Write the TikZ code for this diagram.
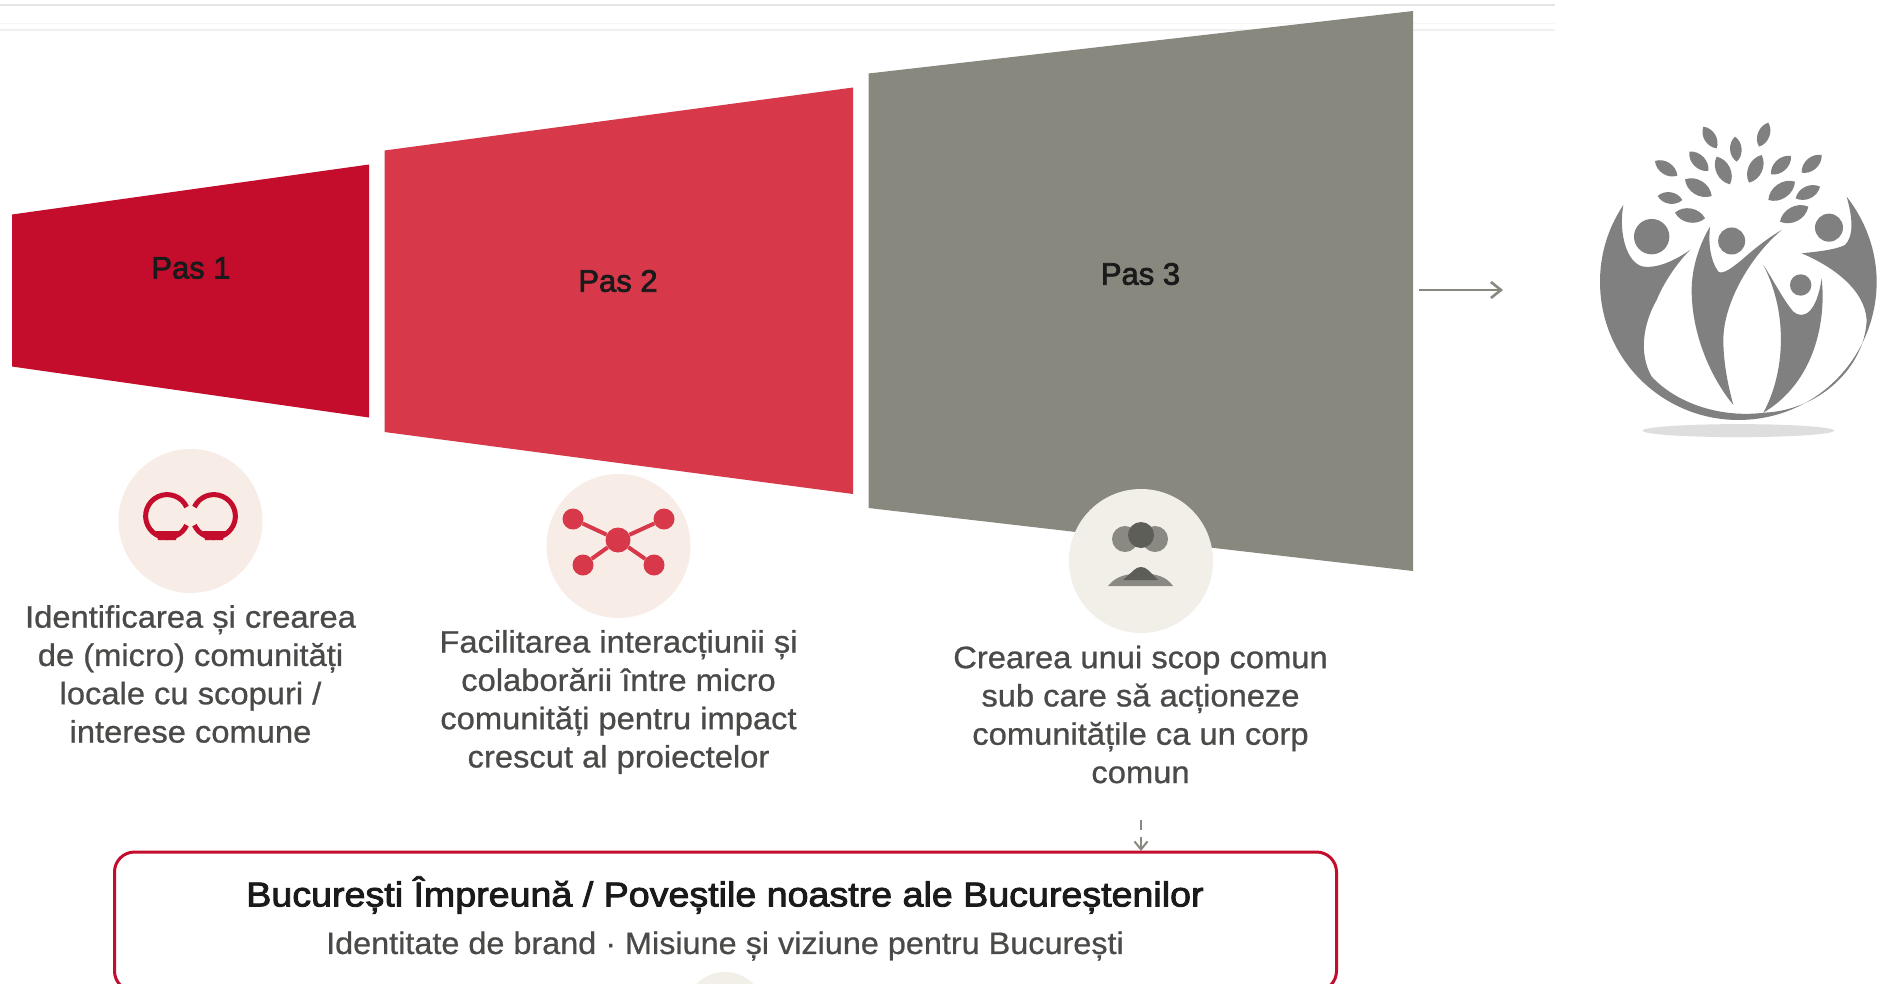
\documentclass[tikz,border=0pt]{standalone}
\usepackage{fontspec}
\setmainfont{Liberation Sans}
\newfontfamily\bodyface[FakeStretch=1.055,FakeBold=0.8]{Liberation Sans}
\newfontfamily\subface[FakeStretch=1.045,FakeBold=0.7]{Liberation Sans}
\newfontfamily\titleface[FakeStretch=1.09,FakeBold=2.6]{Liberation Sans}
\newfontfamily\pasface[FakeStretch=1.0,FakeBold=2.4]{Liberation Sans}
\usetikzlibrary{arrows.meta}
\definecolor{redA}{HTML}{C40D2C}
\definecolor{redB}{HTML}{D7394B}
\definecolor{greyC}{HTML}{88887F}
\definecolor{pinkbg}{HTML}{F8ECE6}
\definecolor{greybg}{HTML}{F1EFE8}
\definecolor{bodytxt}{HTML}{4A4A48}
\definecolor{headtxt}{HTML}{1A1A1A}
\definecolor{logog}{HTML}{808080}
\definecolor{icondark}{HTML}{5E5E58}
\definecolor{iconmid}{HTML}{8A8A82}
\tikzset{
  bodytext/.style={align=center,text=bodytxt,font=\bodyface\fontsize{31}{38.3}\selectfont,inner sep=0pt},
  pastext/.style={text=headtxt,font=\pasface\fontsize{31}{36}\selectfont,inner sep=0pt},
  iconbg/.style={circle,minimum size=144pt,inner sep=0pt},
  dot/.style={circle,fill=redB,inner sep=0pt},
  linkline/.style={redB,line width=4pt},
  ringline/.style={redA,line width=5pt},
  flowarrow/.style={greyC,line width=2.6pt,-{Straight Barb[length=10pt,width=16pt]}},
  leaf/.style={fill=logog},
}
\newcommand{\leafshape}[2]{\fill[leaf] (#1) to[bend left=52] (#2) to[bend left=52] (#1);}
\begin{document}
\begin{tikzpicture}[x=1pt,y=-1pt]
\useasboundingbox (0,0) rectangle (1878,983);
\fill[white] (0,0) rectangle (1878,983);
% faint rules at the top
\draw[black!10,line width=1.5pt] (0,5) -- (1555,5);
\draw[black!3,line width=1pt] (0,23) -- (1555,23);
\draw[black!6,line width=1.2pt] (0,30) -- (1555,30);
% trapezoids
\fill[redA] (12,214.5) -- (369,164.5) -- (369,417.5) -- (12,366.5) -- cycle;
\fill[redB] (384.5,150.5) -- (853,87.5) -- (853,494) -- (384.5,432) -- cycle;
\fill[greyC] (868.5,73.5) -- (1413,11) -- (1413,571) -- (868.5,508) -- cycle;
\node[pastext] (pas1) at (191,268) {Pas 1};
\node[pastext] (pas2) at (618,281) {Pas 2};
\node[pastext] (pas3) at (1140.5,274) {Pas 3};
% icon discs
\node[iconbg,fill=pinkbg] (disc1) at (190.5,521) {};
\node[iconbg,fill=pinkbg] (disc2) at (618.5,546) {};
\node[iconbg,fill=greybg] (disc3) at (1141,561) {};
% icon 1
\draw[ringline] (186.6,507) arc[start angle=25,end angle=335,x radius=21.5pt,y radius=21.5pt];
\draw[ringline] (194.4,507) arc[start angle=155,end angle=-155,x radius=21.5pt,y radius=21.5pt];
\fill[redA] (156,531) -- (178,531) -- (176,540) -- (158,540) -- cycle;
\fill[redA] (203,531) -- (225,531) -- (223,540) -- (205,540) -- cycle;
% icon 2
\node[dot,minimum size=25pt] (hub) at (618,540) {};
\node[dot,minimum size=21pt] (n1) at (573,519) {};
\node[dot,minimum size=21pt] (n2) at (664,519) {};
\node[dot,minimum size=21pt] (n3) at (583,565) {};
\node[dot,minimum size=21pt] (n4) at (654,565) {};
\draw[linkline] (hub) -- (n1);
\draw[linkline] (hub) -- (n2);
\draw[linkline] (hub) -- (n3);
\draw[linkline] (hub) -- (n4);
% icon 3
\fill[iconmid] (1125,539) circle[radius=13pt];
\fill[iconmid] (1155,539) circle[radius=13pt];
\fill[icondark] (1141,535) circle[radius=13pt];
\fill[iconmid] (1108,586) .. controls (1116,576) and (1126,574) .. (1141,573) .. controls (1156,574) and (1166,576) .. (1173,586) -- cycle;
\fill[icondark] (1123,580) -- (1134,570) .. controls (1138,566) and (1144,566) .. (1148,570) -- (1158,580) -- cycle;
% texts
\node[bodytext] (txt1) at (190.5,674) {Identificarea și crearea\\de (micro) comunități\\locale cu scopuri /\\interese comune};
\node[bodytext] (txt2) at (618.5,702) {Facilitarea interacțiunii și\\colaborării între micro\\comunități pentru impact\\crescut al proiectelor};
\node[bodytext] (txt3) at (1140.5,714.5) {Crearea unui scop comun\\sub care să acționeze\\comunitățile ca un corp\\comun};
% bottom box
\begin{scope}
\clip (100,840) rectangle (1350,983);
\fill[greybg] (725,1012) circle[radius=40pt];
\end{scope}
\node[draw=redA,line width=3pt,rounded corners=20pt,minimum width=1222pt,minimum height=139pt,inner sep=0pt] (box) at (725.5,921.5) {};
\node[text=headtxt,inner sep=0pt,font=\titleface\fontsize{34.5}{40}\selectfont] (boxtitle) at (725,895) {București Împreună / Poveștile noastre ale Bucureștenilor};
\node[text=bodytxt,inner sep=0pt,font=\subface\fontsize{31}{36}\selectfont] (boxsub) at (725,946) {Identitate de brand · Misiune și viziune pentru București};
% connectors
\coordinate (dstart) at (1141,820);
\coordinate (dend) at (1141,851);
\draw[greyC,line width=2pt,dash pattern=on 10pt off 5pt] (dstart) -- (1141,832);
\draw[greyC,line width=2pt,-{Straight Barb[length=8pt,width=13pt]}] (1141,837) -- (dend);
\coordinate (astart) at (1419,290);
\coordinate (aend) at (1503,290);
\draw[flowarrow] (astart) -- (aend);
% logo
\begin{scope}[shift={(1560,90)},x=0.3333pt,y=-0.3333pt]
\fill[black!13] (535,1022) ellipse[x radius=96pt,y radius=6.5pt];
\fill[logog] (190,345) .. controls (140,420) and (120,500) .. (120,575)
  .. controls (120,810) and (310,990) .. (535,990)
  .. controls (770,990) and (950,800) .. (950,575)
  .. controls (950,480) and (915,390) .. (860,320)
  .. controls (880,390) and (880,440) .. (855,465)
  .. controls (825,480) and (770,485) .. (725,490)
  .. controls (820,530) and (915,600) .. (920,690)
  .. controls (915,830) and (780,960) .. (615,968)
  .. controls (480,985) and (350,940) .. (275,860)
  .. controls (235,790) and (250,700) .. (290,630)
  .. controls (310,580) and (350,520) .. (390,480)
  .. controls (340,515) and (290,535) .. (250,530)
  .. controls (200,520) and (175,430) .. (190,345) -- cycle;
\fill[logog] (450,410) .. controls (445,460) and (450,510) .. (475,545)
  .. controls (490,555) and (520,530) .. (545,510)
  .. controls (590,470) and (630,440) .. (665,420)
  .. controls (570,500) and (490,640) .. (490,750)
  .. controls (490,820) and (505,890) .. (520,945)
  .. controls (450,860) and (395,730) .. (395,600)
  .. controls (395,530) and (420,460) .. (450,410) -- cycle;
\fill[logog] (610,525) .. controls (640,570) and (670,630) .. (700,665)
  .. controls (730,690) and (770,670) .. (785,565)
  .. controls (800,700) and (760,880) .. (610,968)
  .. controls (670,860) and (690,680) .. (610,525) -- cycle;
\fill[logog] (275,440) circle[radius=17.7pt];
\fill[logog] (515,453) circle[radius=13.5pt];
\fill[logog] (807,413) circle[radius=14pt];
\fill[logog] (722,585) circle[radius=10.7pt];
\leafshape{430,110}{470,175}
\leafshape{525,140}{530,215}
\leafshape{625,98}{597,170}
\leafshape{388,185}{445,243}
\leafshape{470,200}{510,283}
\leafshape{605,195}{567,278}
\leafshape{693,198}{633,253}
\leafshape{785,195}{725,248}
\leafshape{285,213}{352,257}
\leafshape{375,268}{455,318}
\leafshape{705,275}{625,330}
\leafshape{780,290}{707,325}
\leafshape{293,318}{367,330}
\leafshape{345,368}{435,385}
\leafshape{745,350}{660,395}
\end{scope}
\end{tikzpicture}
\end{document}
